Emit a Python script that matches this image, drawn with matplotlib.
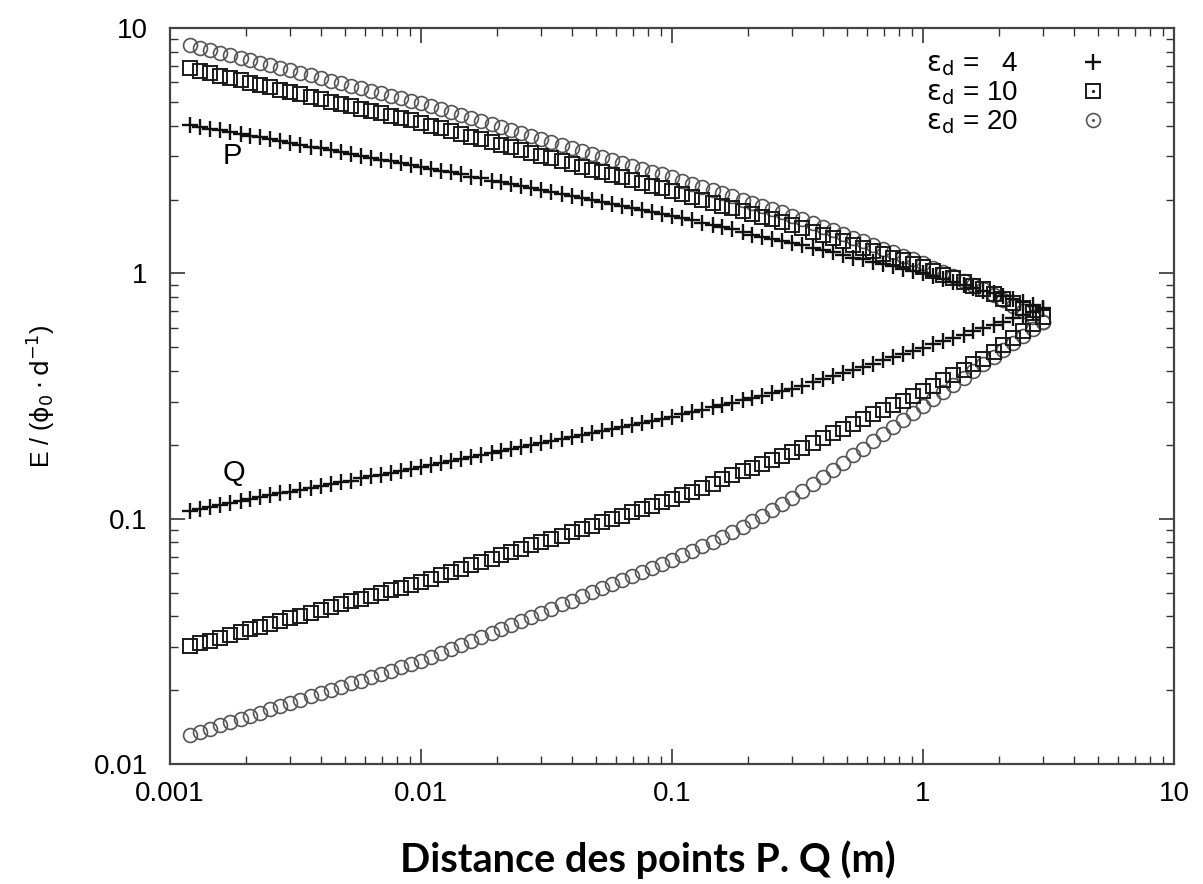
import matplotlib.pyplot as plt
from matplotlib.lines import Line2D
from matplotlib.legend_handler import HandlerTuple

# distance between P and Q (m), same sampling for all six curves
dist = [0.00120, 0.00132, 0.00145, 0.00158, 0.00174, 0.00191, 0.00209, 0.00229, 0.00251, 0.00275,
        0.00302, 0.00331, 0.00363, 0.00398, 0.00437, 0.00479, 0.00525, 0.00575, 0.00631, 0.00692,
        0.00759, 0.00832, 0.00912,
        0.0100, 0.0110, 0.0120, 0.0132, 0.0145, 0.0158, 0.0174, 0.0191, 0.0209, 0.0229,
        0.0251, 0.0275, 0.0302, 0.0331, 0.0363, 0.0398, 0.0437, 0.0479, 0.0525, 0.0575,
        0.0631, 0.0692, 0.0759, 0.0832, 0.0912,
        0.100, 0.110, 0.120, 0.132, 0.145, 0.158, 0.174, 0.191, 0.209, 0.229,
        0.251, 0.275, 0.302, 0.331, 0.363, 0.398, 0.437, 0.479, 0.525, 0.575,
        0.631, 0.692, 0.759, 0.832, 0.912,
        1.00, 1.10, 1.20, 1.32, 1.45, 1.58, 1.74, 1.91, 2.09, 2.29, 2.51, 2.75, 3.02]

# field at P (upper branch) and Q (lower branch), eps_d = 4
p_eps4 = [4.03, 3.96, 3.89, 3.83, 3.76, 3.70, 3.64, 3.58, 3.52, 3.46, 3.40, 3.34, 3.28, 3.23, 3.17,
          3.12, 3.07, 3.02, 2.96, 2.91, 2.87, 2.82, 2.77, 2.72,
          2.67, 2.62, 2.58, 2.53, 2.48, 2.44, 2.39, 2.35, 2.31, 2.26, 2.22, 2.18, 2.14, 2.10, 2.07,
          2.03, 1.99, 1.95, 1.92, 1.88, 1.85, 1.82, 1.78, 1.75, 1.72,
          1.68, 1.65, 1.61, 1.58, 1.54, 1.51, 1.48, 1.44, 1.41, 1.38, 1.35, 1.33, 1.30, 1.27, 1.24,
          1.22, 1.19, 1.16, 1.14, 1.11, 1.09, 1.07, 1.04, 1.02, 1.00,
          0.973, 0.948, 0.923, 0.898, 0.874, 0.851, 0.829, 0.807, 0.785, 0.764, 0.744, 0.724]
q_eps4 = [0.108, 0.110, 0.112, 0.114, 0.116, 0.118, 0.120, 0.123, 0.125, 0.127, 0.129, 0.131, 0.134,
          0.136, 0.139, 0.141, 0.143, 0.146, 0.149, 0.151, 0.154, 0.157, 0.159, 0.162,
          0.165, 0.168, 0.172, 0.175, 0.178, 0.182, 0.185, 0.189, 0.192, 0.196, 0.200, 0.203, 0.207,
          0.211, 0.215, 0.219, 0.224, 0.228, 0.232, 0.237, 0.241, 0.246, 0.250, 0.255, 0.260,
          0.266, 0.272, 0.278, 0.284, 0.290, 0.297, 0.304, 0.310, 0.317, 0.324, 0.332, 0.339, 0.349,
          0.360, 0.370, 0.381, 0.393, 0.405, 0.417, 0.429, 0.442, 0.455, 0.469, 0.483, 0.497,
          0.513, 0.529, 0.545, 0.562, 0.580, 0.598, 0.616, 0.635, 0.655, 0.676, 0.697, 0.718]

# eps_d = 10
p_eps10 = [6.84, 6.69, 6.54, 6.40, 6.26, 6.12, 5.99, 5.85, 5.73, 5.60, 5.48, 5.36, 5.24, 5.12, 5.01,
           4.90, 4.79, 4.69, 4.59, 4.49, 4.39, 4.29, 4.20, 4.10,
           4.00, 3.90, 3.80, 3.70, 3.61, 3.52, 3.43, 3.34, 3.26, 3.18, 3.10, 3.02, 2.94, 2.87, 2.79,
           2.72, 2.65, 2.59, 2.52, 2.46, 2.40, 2.34, 2.28, 2.22, 2.16,
           2.10, 2.05, 2.00, 1.94, 1.89, 1.84, 1.80, 1.75, 1.70, 1.66, 1.62, 1.57, 1.53, 1.48, 1.44,
           1.39, 1.35, 1.31, 1.27, 1.23, 1.20, 1.16, 1.13, 1.09, 1.06,
           1.02, 0.988, 0.955, 0.922, 0.891, 0.861, 0.824, 0.788, 0.754, 0.722, 0.690, 0.661]
q_eps10 = [0.0302, 0.0310, 0.0318, 0.0327, 0.0335, 0.0344, 0.0354, 0.0363, 0.0373, 0.0383, 0.0393,
           0.0403, 0.0414, 0.0425, 0.0436, 0.0448, 0.0460, 0.0472, 0.0485, 0.0497, 0.0511, 0.0524,
           0.0538, 0.0552,
           0.0570, 0.0588, 0.0606, 0.0625, 0.0645, 0.0666, 0.0687, 0.0708, 0.0731, 0.0754, 0.0778,
           0.0802, 0.0827, 0.0853, 0.0880, 0.0908, 0.0937, 0.0967, 0.0997, 0.103, 0.106, 0.110,
           0.113, 0.117, 0.120,
           0.125, 0.129, 0.134, 0.139, 0.145, 0.150, 0.156, 0.161, 0.167, 0.174, 0.180, 0.187, 0.195,
           0.204, 0.213, 0.223, 0.233, 0.243, 0.254, 0.266, 0.278, 0.290, 0.303, 0.317, 0.331,
           0.348, 0.366, 0.385, 0.405, 0.427, 0.449, 0.479, 0.511, 0.545, 0.581, 0.619, 0.661]

# eps_d = 20
p_eps20 = [8.51, 8.31, 8.12, 7.93, 7.74, 7.56, 7.39, 7.21, 7.04, 6.88, 6.72, 6.56, 6.41, 6.26, 6.11,
           5.97, 5.83, 5.69, 5.56, 5.43, 5.30, 5.18, 5.06, 4.94,
           4.81, 4.67, 4.54, 4.42, 4.30, 4.18, 4.06, 3.95, 3.84, 3.74, 3.63, 3.53, 3.44, 3.34, 3.25,
           3.16, 3.07, 2.99, 2.91, 2.83, 2.75, 2.67, 2.60, 2.53, 2.46,
           2.38, 2.32, 2.25, 2.18, 2.12, 2.06, 2.00, 1.94, 1.88, 1.83, 1.78, 1.72, 1.67, 1.61, 1.55,
           1.50, 1.45, 1.40, 1.35, 1.31, 1.26, 1.22, 1.18, 1.14, 1.10,
           1.05, 1.01, 0.972, 0.933, 0.896, 0.861, 0.817, 0.776, 0.737, 0.700, 0.664, 0.631]
q_eps20 = [0.0131, 0.0135, 0.0139, 0.0144, 0.0148, 0.0153, 0.0157, 0.0162, 0.0167, 0.0172, 0.0178,
           0.0183, 0.0189, 0.0194, 0.0200, 0.0207, 0.0213, 0.0219, 0.0226, 0.0233, 0.0240, 0.0248,
           0.0255, 0.0263,
           0.0273, 0.0284, 0.0295, 0.0306, 0.0318, 0.0330, 0.0343, 0.0356, 0.0370, 0.0384, 0.0399,
           0.0414, 0.0430, 0.0447, 0.0464, 0.0482, 0.0501, 0.0520, 0.0540, 0.0561, 0.0583, 0.0605,
           0.0628, 0.0653, 0.0678,
           0.0708, 0.0740, 0.0773, 0.0807, 0.0843, 0.0881, 0.0929, 0.0980, 0.103, 0.109, 0.115,
           0.121, 0.130, 0.138, 0.148, 0.158, 0.169, 0.181, 0.193, 0.207, 0.221, 0.236, 0.253,
           0.270, 0.289,
           0.308, 0.329, 0.351, 0.375, 0.400, 0.427, 0.456, 0.486, 0.519, 0.554, 0.591, 0.631]

eps_labels = ['4', '10', '20']
x_ticks = [0.001, 0.01, 0.1, 1, 10]
x_ticklabels = ['0.001', '0.01', '0.1', '1', '10']
y_ticks = [0.01, 0.1, 1, 10]
y_ticklabels = ['0.01', '0.1', '1', '10']

plt.rcParams['font.family'] = ['Liberation Sans', 'DejaVu Sans']

fig = plt.figure(figsize=(12.03, 8.84), dpi=100)
ax = fig.add_axes([0.1413, 0.1357, 0.8346, 0.8326])

plus_kw = dict(ls='none', marker='+', ms=11, mew=1.7, color='#111111')
sq_kw = dict(ls='none', marker='s', ms=9.5, mew=1.4, mfc='none', mec='#1a1a1a')
circ_kw = dict(ls='none', marker='o', ms=10, mew=1.2, mfc='none', mec='#555555')

ax.plot(dist, q_eps20, **circ_kw)
ax.plot(dist, p_eps20, **circ_kw)
ax.plot(dist, q_eps10, **sq_kw)
ax.plot(dist, p_eps10, **sq_kw)
ax.plot(dist, q_eps4, **plus_kw)
ax.plot(dist, p_eps4, **plus_kw)

ax.set_xscale('log')
ax.set_yscale('log')
ax.set_xlim(0.001, 10)
ax.set_ylim(0.01, 10)
ax.set_xticks(x_ticks)
ax.set_xticklabels(x_ticklabels)
ax.set_yticks(y_ticks)
ax.set_yticklabels(y_ticklabels)
ax.tick_params(which='both', direction='in', top=True, right=True, color='#333333')
ax.tick_params(which='major', length=11, width=1.2, labelsize=20, pad=12)
ax.tick_params(which='minor', length=5.5, width=1.0)
ax.tick_params(axis='y', pad=16)
for s in ax.spines.values():
    s.set_linewidth(1.6)
    s.set_color('#444444')

ax.text(0.00162, 3.0, 'P', fontsize=21, ha='left', va='center')
ax.text(0.00162, 0.153, 'Q', fontsize=21, ha='left', va='center')

ax.set_ylabel(r'E / ($\mathrm{\phi_0\cdot d^{-1}}$)', fontsize=18, labelpad=26)
ax.set_xlabel('Distance des points P. Q (m)', fontsize=28.5, fontweight='bold',
              family='Lato', labelpad=24)
ax.xaxis.label.set_x(0.476)

# legend: text first, marker on the right, with the centre dot of the symbols
h_plus = Line2D([], [], **plus_kw)
h_sq = (Line2D([], [], **sq_kw), Line2D([], [], ls='none', marker='.', ms=2.5, color='#1a1a1a'))
h_circ = (Line2D([], [], **circ_kw), Line2D([], [], ls='none', marker='.', ms=2.5, color='#555555'))
labels = [r'$\mathrm{\varepsilon_{d}}$ = ' + ('\u2007' + e if len(e) == 1 else e) for e in eps_labels]
ax.legend([h_plus, h_sq, h_circ], labels, handler_map={tuple: HandlerTuple(ndivide=1)},
          loc='upper right', bbox_to_anchor=(0.955, 1.0), markerfirst=False, frameon=False,
          fontsize=20, handlelength=1.0, handletextpad=2.2, labelspacing=0.05, borderpad=0.3)

fig.savefig('out.png', dpi=100)
